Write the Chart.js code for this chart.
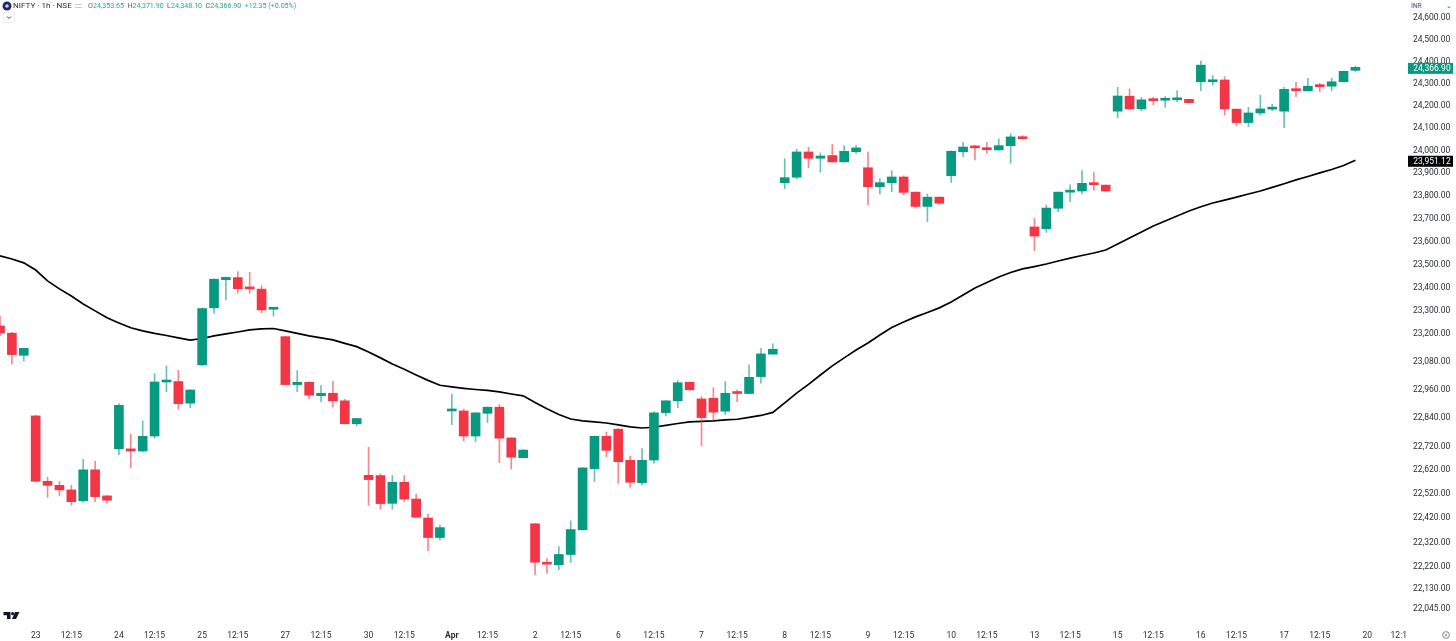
<!DOCTYPE html>
<html>
<head>
<meta charset="utf-8">
<title>NIFTY 1h</title>
<script src="https://cdn.jsdelivr.net/npm/chart.js@4"></script>
<style>
    html, body { margin: 0; padding: 0; background: #fff; }
    #wrap { position: relative; width: 1456px; height: 641px; overflow: hidden; font-family: Roboto, sans-serif; }
    canvas { position: absolute; left: 0; top: 0; }
    .abs { position: absolute; white-space: nowrap; }
    #title { left: 13px; top: 0px; font-size: 8.1px; line-height: 11px; color: #2a2e39; }
    #ohlc { left: 88px; top: 1px; font-size: 7.1px; line-height: 10px; color: #5d606b; }
    #ohlc b { font-weight: 400; color: #26a69a; margin-right: 3.4px; }
    #inr { left: 1408px; top: 0; width: 45px; height: 12.5px; background: #fff; font-size: 6.5px; line-height: 12px; color: #4a4e59; box-sizing: border-box; padding-left: 3px; }
    #inr span { position: absolute; right: 1px; top: 0; }
    #toggle { left: 3px; top: 12px; width: 12px; height: 11px; box-sizing: border-box; border: 1px solid #eceef2; border-radius: 2px; }
</style>
</head>
<body>
<div id="wrap">
    <canvas id="chart" width="1456" height="641"></canvas>
    <svg class="abs" style="left:2px;top:1px" width="10" height="10"><circle cx="5" cy="5" r="4.5" fill="#1c2a6b"/><circle cx="5" cy="5" r="1.8" fill="#c9cfe6"/></svg>
    <div class="abs" id="title">NIFTY · 1h · NSE</div>
    <svg class="abs" style="left:74px;top:2px" width="9" height="8"><rect x="1" y="2" width="7" height="1" fill="#c8cad0"/><rect x="1" y="5" width="7" height="1" fill="#c8cad0"/></svg>
    <div class="abs" id="ohlc">O<b>24,353.65</b>H<b>24,371.90</b>L<b>24,348.10</b>C<b>24,366.90</b><b>+12.35 (+0.05%)</b></div>
    <div class="abs" id="toggle"><svg width="10" height="9" style="display:block"><path d="M3 3.5 L5 5.5 L7 3.5" fill="none" stroke="#333" stroke-width="1"/></svg></div>
    <div class="abs" id="inr">INR<span>⌄</span></div>
    <svg class="abs" style="left:3px;top:611px" width="17" height="10"><path d="M0.5 1H7.5V8H4V4.2H0.5Z" fill="#131722"/><circle cx="9.6" cy="2.6" r="1.6" fill="#131722"/><path d="M12 1H16.5L13 8H9Z" fill="#131722"/></svg>
    <svg class="abs" style="left:1441px;top:630px" width="10" height="10"><circle cx="5" cy="5" r="3.4" fill="none" stroke="#6a6d78" stroke-width="0.8"/><path d="M3.5 3.5 L6.5 6.5 M6.5 3.5 L3.5 6.5" stroke="#6a6d78" stroke-width="0.6"/></svg>
</div>
<script>
// hourly candles, 7 per session, first three are the tail of the previous day
const opens = [23227, 23196, 23101,
    22843, 22568, 22551, 22532, 22487, 22616, 22507,
    22704, 22704, 22695, 22758, 22987, 22989, 22897,
    23060, 23305, 23427, 23436, 23391, 23386, 23299,
    23181, 22976, 22986, 22929, 22939, 22907, 22810,
    22593, 22592, 22476, 22564, 22494, 22415, 22334,
    22864, 22864, 22758, 22854, 22880, 22750, 22667,
    22391, 22232, 22222, 22264, 22366, 22621, 22757,
    22787, 22656, 22562, 22657, 22857, 22907, 22986,
    22915, 22918, 22863, 22942, 22938, 23010, 23106,
    23852, 23876, 23988, 23960, 23972, 23944, 23989,
    23918, 23834, 23852, 23877, 23810, 23747, 23788,
    23883, 23989, 24010, 24006, 23997, 24016, 24055,
    23657, 23649, 23739, 23810, 23815, 23849, 23841,
    24170, 24237, 24180, 24223, 24219, 24221, 24223,
    24302, 24302, 24310, 24179, 24119, 24162, 24179,
    24170, 24270, 24261, 24283, 24282, 24302, 24353.65];
const highs = [23270, 23200, 23132,
    22846, 22585, 22567, 22551, 22660, 22653, 22508,
    22895, 22766, 22822, 23023, 23056, 23037, 22955,
    23305, 23431, 23438, 23462, 23459, 23401, 23307,
    23183, 23036, 22988, 22972, 22990, 22913, 22833,
    22711, 22599, 22592, 22592, 22515, 22431, 22386,
    22935, 22872, 22857, 22881, 22891, 22751, 22701,
    22392, 22247, 22297, 22403, 22626, 22758, 22775,
    22789, 22674, 22705, 22861, 22908, 22993, 22987,
    22925, 22963, 22989, 22953, 23060, 23131, 23150,
    23958, 24000, 24009, 23984, 24022, 24016, 24016,
    23988, 23870, 23905, 23882, 23811, 23802, 23789,
    23993, 24031, 24018, 24031, 24046, 24070, 24061,
    23695, 23753, 23811, 23842, 23905, 23896, 23842,
    24277, 24270, 24232, 24232, 24235, 24262, 24224,
    24396, 24330, 24325, 24180, 24187, 24242, 24201,
    24277, 24300, 24318, 24295, 24318, 24350, 24371.90];
const lows = [23184, 23064, 23076,
    22566, 22501, 22507, 22469, 22480, 22483, 22476,
    22680, 22624, 22691, 22749, 22945, 22871, 22878,
    23058, 23282, 23339, 23368, 23368, 23283, 23270,
    22975, 22946, 22915, 22903, 22882, 22809, 22801,
    22468, 22452, 22452, 22482, 22417, 22280, 22324,
    22806, 22737, 22734, 22815, 22646, 22619, 22666,
    22180, 22187, 22201, 22231, 22365, 22567, 22671,
    22560, 22543, 22553, 22644, 22843, 22878, 22952,
    22716, 22826, 22848, 22903, 22937, 22982, 23105,
    23825, 23868, 23918, 23898, 23943, 23943, 23982,
    23754, 23802, 23812, 23798, 23739, 23680, 23757,
    23853, 23967, 23953, 23982, 23996, 23938, 24045,
    23553, 23633, 23724, 23768, 23802, 23819, 23814,
    24141, 24179, 24172, 24198, 24187, 24212, 24207,
    24262, 24289, 24152, 24105, 24101, 24152, 24172,
    24096, 24235, 24260, 24258, 24262, 24301, 24348.10];
const closes = [23197, 23104, 23131,
    22568, 22551, 22532, 22483, 22616, 22504, 22489,
    22888, 22695, 22757, 22987, 22990, 22895, 22953,
    23302, 23429, 23437, 23388, 23387, 23296, 23306,
    22976, 22986, 22931, 22939, 22907, 22810, 22832,
    22575, 22475, 22564, 22494, 22418, 22334, 22375,
    22868, 22758, 22856, 22880, 22749, 22669, 22699,
    22232, 22224, 22264, 22367, 22624, 22757, 22698,
    22650, 22564, 22656, 22856, 22907, 22984, 22954,
    22836, 22859, 22939, 22938, 23007, 23107, 23127,
    23874, 23988, 23960, 23970, 23944, 23991, 24006,
    23834, 23852, 23877, 23809, 23747, 23788, 23761,
    23991, 24010, 24006, 23998, 24016, 24055, 24047,
    23617, 23740, 23810, 23818, 23849, 23843, 23815,
    24238, 24180, 24221, 24217, 24223, 24224, 24208,
    24377, 24310, 24180, 24119, 24162, 24180, 24183,
    24268, 24262, 24282, 24280, 24302, 24349, 24366.90];
const movingAvg = [23531, 23517, 23500,
    23469, 23422, 23387, 23356, 23322, 23292, 23262,
    23240, 23219, 23206, 23195, 23186, 23176, 23166,
    23173, 23184, 23193, 23201, 23210, 23214, 23216,
    23206, 23195, 23184, 23176, 23167, 23152, 23138,
    23115, 23090, 23064, 23041, 23017, 22994, 22973,
    22966, 22960, 22955, 22951, 22945, 22936, 22928,
    22900, 22873, 22849, 22830, 22822, 22818, 22813,
    22805, 22797, 22792, 22795, 22803, 22811, 22818,
    22820, 22822, 22826, 22829, 22837, 22845, 22858,
    22898, 22940, 22977, 23017, 23056, 23090, 23124,
    23154, 23188, 23220, 23244, 23266, 23285, 23305,
    23330, 23361, 23391, 23415, 23439, 23458, 23474,
    23484, 23495, 23508, 23521, 23532, 23543, 23556,
    23582, 23609, 23635, 23661, 23683, 23705, 23727,
    23746, 23762, 23775, 23788, 23802, 23815, 23831,
    23847, 23864, 23879, 23895, 23910, 23928, 23951.12];

const dayLabels = ['23', '24', '25', '27', '30', 'Apr', '2', '6', '7', '8', '9', '10', '13', '15', '16', '17', '20'];
const priceTicks = [24600, 24500, 24400, 24300, 24200, 24100, 24000, 23900, 23800, 23700, 23600, 23500, 23400, 23300,
    23200, 23080, 22960, 22840, 22720, 22620, 22520, 22420, 22320, 22220, 22130, 22045];

const GREEN = '#089981';
const RED = '#F23645';
const FONT = 'Roboto, sans-serif';

// 115 candles plus 4 empty slots running under the price axis
const labels = [];
for (let i = 0; i < 119; i++) labels.push('');
dayLabels.forEach((d, k) => {
    labels[3 + 7 * k] = d;
    if (6 + 7 * k < 118) labels[6 + 7 * k] = '12:15';
});
labels[118] = '12:1    ';

const fmt = v => v.toLocaleString('en-US', { minimumFractionDigits: 2, maximumFractionDigits: 2 });
const isUp = i => closes[i] >= opens[i];

// no room kept for half labels at the plot edges
const noEdgePadding = s => {
    s.paddingTop = 0;
    s.paddingBottom = 0;
    s.paddingLeft = 0;
    s.paddingRight = 0;
};

const priceTags = {
    id: 'priceTags',
    afterDraw(chart) {
        const c = chart.ctx;
        const y = chart.scales.y;
        const tags = [[closes[closes.length - 1], GREEN], [movingAvg[movingAvg.length - 1], '#000']];
        tags.forEach(([v, col]) => {
            const py = y.getPixelForValue(v) + 1;
            c.save();
            c.fillStyle = col;
            c.fillRect(1408, py - 5.5, 45, 11);
            c.fillStyle = '#fff';
            c.font = '8.5px ' + FONT;
            c.textBaseline = 'middle';
            c.textAlign = 'left';
            c.fillText(fmt(v), 1413.3, py + 0.5);
            c.restore();
        });
    }
};

new Chart(document.getElementById('chart').getContext('2d'), {
    data: {
        labels: labels,
        datasets: [
            {
                type: 'line',
                data: movingAvg,
                borderColor: '#000',
                borderWidth: 1.7,
                pointRadius: 0,
                tension: 0,
                order: 3
            },
            {
                type: 'bar',
                data: lows.map((l, i) => [l, highs[i]]),
                backgroundColor: opens.map((o, i) => isUp(i) ? 'rgba(8,153,129,0.6)' : 'rgba(242,54,69,0.6)'),
                barThickness: 1,
                grouped: false,
                order: 2
            },
            {
                type: 'bar',
                data: opens.map((o, i) => [Math.min(o, closes[i]), Math.max(o, closes[i])]),
                backgroundColor: opens.map((o, i) => isUp(i) ? GREEN : RED),
                barThickness: 9,
                minBarLength: 2,
                grouped: false,
                order: 1
            }
        ]
    },
    options: {
        responsive: false,
        animation: false,
        devicePixelRatio: 1,
        layout: { autoPadding: false },
        plugins: { legend: { display: false }, tooltip: { enabled: false } },
        scales: {
            x: {
                type: 'category',
                offset: false,
                grid: { display: false, drawTicks: false },
                border: { display: false },
                afterFit: s => { s.height = 16; noEdgePadding(s); },
                ticks: {
                    autoSkip: false,
                    maxRotation: 0,
                    minRotation: 0,
                    padding: 5.5,
                    color: '#2a2e39',
                    font: ctx => ({
                        family: FONT,
                        size: 8.5,
                        weight: ctx.tick && ctx.tick.label === 'Apr' ? 'bold' : 'normal'
                    })
                }
            },
            y: {
                type: 'logarithmic',
                position: 'right',
                bounds: 'data',
                min: 21975,
                max: 24673,
                grid: { display: false, drawTicks: false },
                border: { display: false },
                afterFit: s => { s.width = 53; noEdgePadding(s); },
                afterBuildTicks: s => { s.ticks = priceTicks.map(v => ({ value: v })); },
                ticks: {
                    autoSkip: false,
                    padding: 10,
                    labelOffset: 1.5,
                    color: '#2a2e39',
                    font: { family: FONT, size: 8.5 },
                    callback: v => fmt(v)
                }
            }
        }
    },
    plugins: [priceTags]
});
</script>
</body>
</html>
